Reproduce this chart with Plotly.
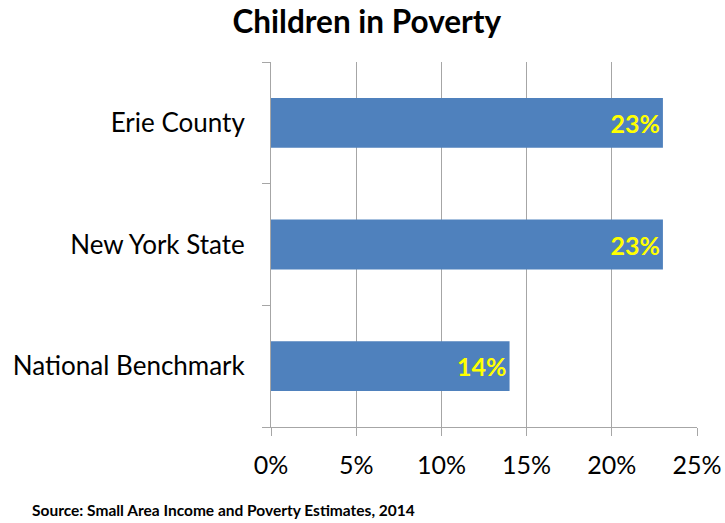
import plotly.graph_objects as go

categories = ["National Benchmark", "New York State", "Erie County"]
values = [14, 23, 23]
labels = ["14%", "23%", "23%"]
tick_vals = [0, 5, 10, 15, 20, 25]
tick_text = ["0%", "5%", "10%", "15%", "20%", "25%"]

FONT = "Lato"

fig = go.Figure(go.Bar(
    x=values, y=categories, orientation="h",
    marker=dict(color="#4F81BD", line=dict(width=0)),
    width=0.41,
    text=labels, textposition="inside", insidetextanchor="end",
    constraintext="none",
    textfont=dict(family=FONT, size=25, color="#FFFF00", weight="bold"),
    cliponaxis=False,
))

fig.update_layout(
    width=725, height=523,
    margin=dict(l=271, r=28, t=62, b=96, autoexpand=False),
    paper_bgcolor="white", plot_bgcolor="white",
    showlegend=False,
    title=dict(text="<b>Children in Poverty</b>", x=0.506, xanchor="center",
               y=0.958, yanchor="middle",
               font=dict(family=FONT, size=31.5, color="black")),
    xaxis=dict(range=[0, 25], tickvals=tick_vals, ticktext=tick_text,
               showgrid=True, gridcolor="#A6A6A6", gridwidth=1,
               showline=True, linecolor="#A6A6A6", linewidth=1,
               ticks="outside", ticklen=8, tickcolor="#A6A6A6",
               zeroline=False, automargin=False, ticklabelstandoff=8,
               tickfont=dict(family=FONT, size=25, color="black")),
    yaxis=dict(range=[-0.5, 2.5], tickson="boundaries",
               showline=True, linecolor="#A6A6A6", linewidth=1,
               ticks="outside", ticklen=8, tickcolor="#A6A6A6",
               showgrid=False, automargin=False, ticklabelstandoff=20,
               tickfont=dict(family=FONT, size=26, color="black")),
    annotations=[dict(text="<b>Source: Small Area Income and Poverty Estimates, 2014</b>",
                      xref="paper", yref="paper", x=(30 - 271) / 426, y=-0.227,
                      xanchor="left", yanchor="middle", showarrow=False,
                      font=dict(family=FONT, size=15.5, color="black"))],
)

fig.write_html("out.html", config={"displayModeBar": False},
               post_script="document.body.style.margin='0px';")
